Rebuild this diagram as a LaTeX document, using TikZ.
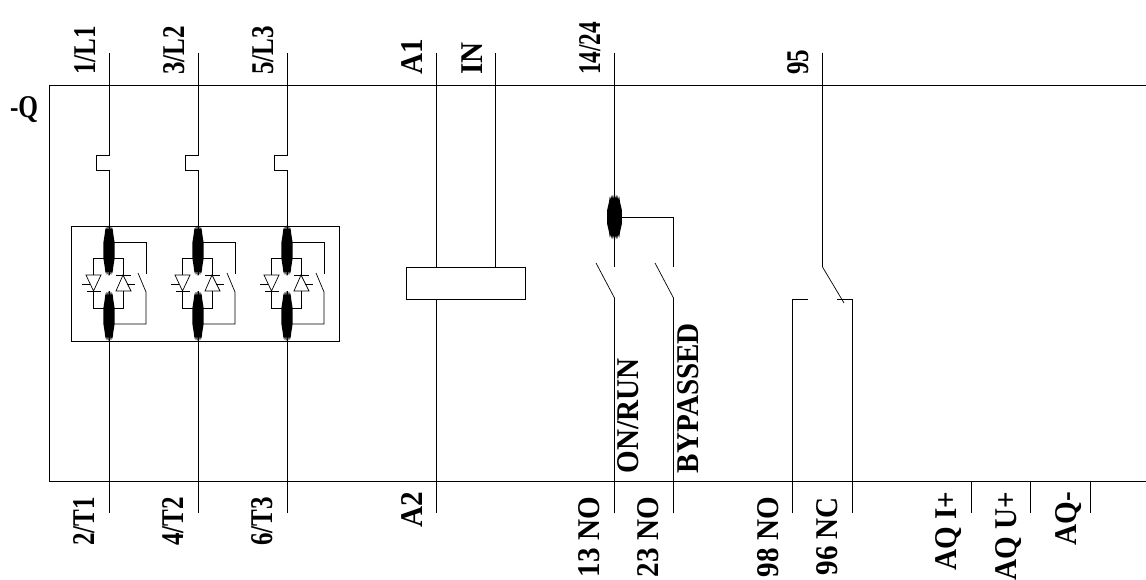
\documentclass[tikz,border=0pt]{standalone}
\usepackage{fontspec}
\setmainfont{Liberation Serif}
\usepackage{tikz}

\tikzset{
  wire/.style={line width=0.2pt, black},
  upname/.style={rotate=90, xscale=0.92, anchor=base west, inner sep=0pt, outer sep=0pt, font=\fontsize{9}{10}\selectfont\bfseries},
  downname/.style={rotate=90, xscale=0.92, anchor=base east, inner sep=0pt, outer sep=0pt, font=\fontsize{9}{10}\selectfont\bfseries},
  narrow/.style={xscale=0.86},
  blob/.pic={
    \fill[black] (-0.4,-25) -- (-0.9,-20) -- (-1.4,-24.5) -- (-1.9,-20) -- (-2.5,-24) -- (-3,-19) -- (-3.6,-23) -- (-4.2,-17) -- (-5.6,-8) -- (-5.6,8)
      -- (-4.2,17) -- (-3.6,23) -- (-3,19) -- (-2.5,24) -- (-1.9,20) -- (-1.4,24.5) -- (-0.9,20) -- (-0.4,25)
      -- (0.4,25) -- (0.9,20) -- (1.4,24.5) -- (1.9,20) -- (2.5,24) -- (3,19) -- (3.6,23) -- (4.2,17) -- (5.6,8)
      -- (5.6,-8) -- (4.2,-17) -- (3.6,-23) -- (3,-19) -- (2.5,-24) -- (1.9,-20) -- (1.4,-24.5) -- (0.9,-20) -- (0.4,-25) -- cycle;
  }
}

\begin{document}
\begin{tikzpicture}[x=0.01cm, y=-0.01cm, wire]
\useasboundingbox (0,0) rectangle (1146,579);

% frame, open on the right
\draw (1146,85.5) -- (49.5,85.5) -- (49.5,481) -- (1146,481);
\node[xscale=0.8, inner sep=0pt, outer sep=0pt, anchor=base west, font=\fontsize{9}{10}\selectfont\bfseries] (qname) at (10,117) {-Q};

% terminals on top
\coordinate (l1) at (109,53);
\coordinate (l2) at (198,53);
\coordinate (l3) at (287,53);
\coordinate (a1) at (436,53);
\coordinate (in) at (495.5,53);
\coordinate (nocom) at (614.5,53);
\coordinate (nccom) at (822.5,53);

% terminals at the bottom
\coordinate (t1) at (109,513);
\coordinate (t2) at (198,513);
\coordinate (t3) at (287,513);
\coordinate (a2) at (436,513);
\coordinate (no13) at (614.5,513);
\coordinate (no23) at (673.5,513);
\coordinate (no98) at (792.5,513);
\coordinate (nc96) at (852,513);
\coordinate (aqi) at (971,513);
\coordinate (aqu) at (1030.5,513);
\coordinate (aqm) at (1090,513);

\node[upname, narrow] (l1name) at (95,75) {1/L1};
\node[upname, narrow] (l2name) at (184,75) {3/L2};
\node[upname, narrow] (l3name) at (273,75) {5/L3};
\node[upname] (a1name) at (422,75) {A1};
\node[upname] (inname) at (482,75) {IN};
\node[upname, xscale=0.8] (nocomname) at (600,75) {14/24};
\node[upname, narrow] (nccomname) at (808,75) {95};

\node[downname, narrow] (t1name) at (94,497) {2/T1};
\node[downname, narrow] (t2name) at (183,497) {4/T2};
\node[downname, narrow] (t3name) at (272,497) {6/T3};
\node[downname] (a2name) at (422,492) {A2};
\node[downname] (no13name) at (599,497) {13 NO};
\node[downname] (no23name) at (658,497) {23 NO};
\node[downname] (no98name) at (778,497) {98 NO};
\node[downname] (nc96name) at (837,497) {96 NC};
\node[downname] (aqiname) at (956,492) {AQ I+};
\node[downname] (aquname) at (1016,492) {AQ U+};
\node[downname] (aqmname) at (1076,492) {AQ-};

\node[upname] (runname) at (638,473) {ON/RUN};
\node[upname] (bypname) at (698,473) {BYPASSED};

% semiconductor box
\draw (71.5,226) rectangle (339,341);

% phase 1
\draw (l1) -- (109,155) -- (96,155) -- (96,170) -- (109,170) -- (109,275);
\draw (109,291) -- (t1);
\pic at (109,250.5) {blob};
\pic at (109,316) {blob};
\draw (109,242) -- (146,242) -- (146,274);
\draw (109,324) -- (146,324) -- (146,292) -- (138,273);
\draw (93.5,275) -- (93.5,258) -- (123,258) -- (123,275);
\draw (93.5,291) -- (93.5,308) -- (123,308) -- (123,291);
\draw (86,275) -- (101,275) -- (93.5,291) -- cycle;
\draw (87,291) -- (101,291);
\draw (82,284) -- (90,284);
\draw (116,291) -- (131,291) -- (123,275) -- cycle;
\draw (116,275) -- (131,275);
\draw (127,284) -- (135,284);

% phase 2
\draw (l2) -- (198,155) -- (185,155) -- (185,170) -- (198,170) -- (198,275);
\draw (198,291) -- (t2);
\pic at (198,250.5) {blob};
\pic at (198,316) {blob};
\draw (198,242) -- (235,242) -- (235,274);
\draw (198,324) -- (235,324) -- (235,292) -- (227,273);
\draw (182.5,275) -- (182.5,258) -- (212,258) -- (212,275);
\draw (182.5,291) -- (182.5,308) -- (212,308) -- (212,291);
\draw (175,275) -- (190,275) -- (182.5,291) -- cycle;
\draw (176,291) -- (190,291);
\draw (171,284) -- (179,284);
\draw (205,291) -- (220,291) -- (212,275) -- cycle;
\draw (205,275) -- (220,275);
\draw (216,284) -- (224,284);

% phase 3
\draw (l3) -- (287,155) -- (274,155) -- (274,170) -- (287,170) -- (287,275);
\draw (287,291) -- (t3);
\pic at (287,250.5) {blob};
\pic at (287,316) {blob};
\draw (287,242) -- (324,242) -- (324,274);
\draw (287,324) -- (324,324) -- (324,292) -- (316,273);
\draw (271.5,275) -- (271.5,258) -- (301,258) -- (301,275);
\draw (271.5,291) -- (271.5,308) -- (301,308) -- (301,291);
\draw (264,275) -- (279,275) -- (271.5,291) -- cycle;
\draw (265,291) -- (279,291);
\draw (260,284) -- (268,284);
\draw (294,291) -- (309,291) -- (301,275) -- cycle;
\draw (294,275) -- (309,275);
\draw (305,284) -- (313,284);

% coil
\node[draw, inner sep=0pt, outer sep=0pt, minimum width=1.19cm, minimum height=0.32cm] (coil) at (465.5,283) {};
\draw (a1) -- (a1 |- coil.north);
\draw (a1 |- coil.south) -- (a2);
\draw (in) -- (in |- coil.north);

% relay outputs
\draw (nocom) -- (614.5,267);
\pic[xscale=1.3, yscale=0.9] at (614.5,217) {blob};
\draw (614.5,217) -- (673.5,217) -- (673.5,267);
\draw (596,263) -- (614.5,298) -- (no13);
\draw (655,263) -- (673.5,298) -- (no23);
\draw (nccom) -- (822.5,267) -- (844,303);
\draw (808,299) -- (792.5,299) -- (no98);
\draw (837,299) -- (852,299) -- (nc96);

% analog outputs
\draw (971,481) -- (aqi);
\draw (1030.5,481) -- (aqu);
\draw (1090,481) -- (aqm);
\end{tikzpicture}
\end{document}
